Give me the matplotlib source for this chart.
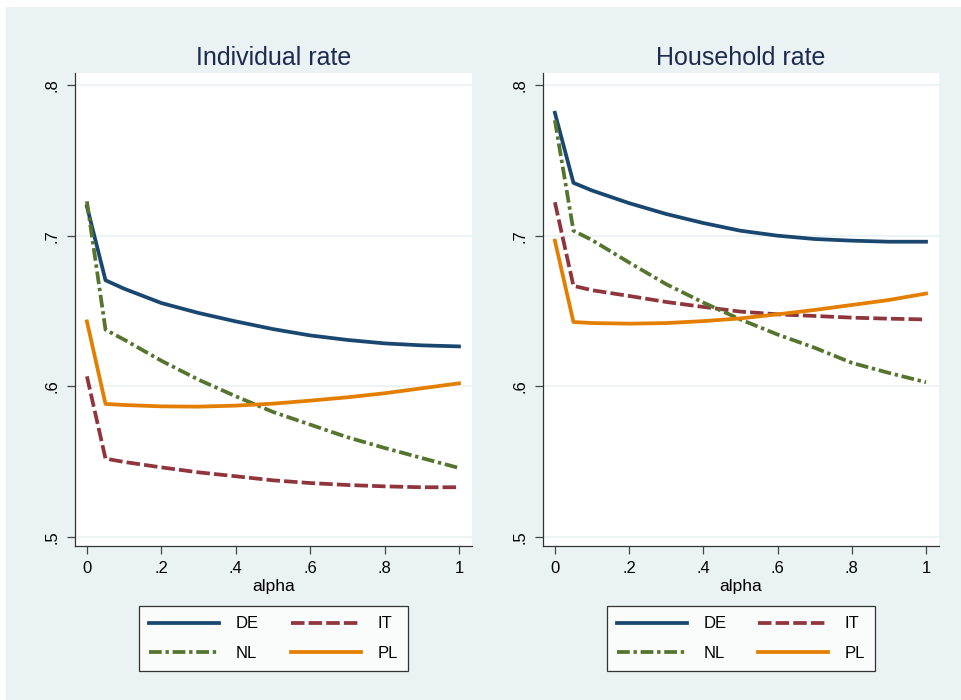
import matplotlib
matplotlib.use("Agg")
import matplotlib.pyplot as plt
from matplotlib.patches import Rectangle

plt.rcParams['font.family'] = ['Liberation Sans', 'DejaVu Sans']

# alpha grid
alpha = [0, 0.05, 0.1, 0.2, 0.3, 0.4, 0.5, 0.6, 0.7, 0.8, 0.9, 1.0]

# Individual rate
ind_de = [0.7195, 0.6704, 0.6648, 0.6553, 0.6487, 0.6431, 0.6380, 0.6338, 0.6308, 0.6285, 0.6272, 0.6265]
ind_it = [0.6066, 0.5520, 0.5498, 0.5462, 0.5429, 0.5403, 0.5376, 0.5358, 0.5345, 0.5336, 0.5330, 0.5330]
ind_nl = [0.7228, 0.6376, 0.6310, 0.6170, 0.6044, 0.5934, 0.5830, 0.5746, 0.5662, 0.5591, 0.5524, 0.5458]
ind_pl = [0.6431, 0.5883, 0.5876, 0.5867, 0.5865, 0.5872, 0.5885, 0.5905, 0.5927, 0.5954, 0.5987, 0.6020]

# Household rate
hh_de = [0.7816, 0.7351, 0.7300, 0.7216, 0.7144, 0.7084, 0.7033, 0.7000, 0.6978, 0.6967, 0.6960, 0.6960]
hh_it = [0.7222, 0.6667, 0.6638, 0.6600, 0.6560, 0.6527, 0.6496, 0.6478, 0.6467, 0.6456, 0.6449, 0.6444]
hh_nl = [0.7767, 0.7033, 0.6971, 0.6822, 0.6678, 0.6556, 0.6444, 0.6344, 0.6256, 0.6156, 0.6089, 0.6027]
hh_pl = [0.6967, 0.6427, 0.6420, 0.6416, 0.6420, 0.6433, 0.6451, 0.6478, 0.6507, 0.6540, 0.6573, 0.6616]

yticks = [0.5, 0.6, 0.7, 0.8]
ytick_labels = [".5", ".6", ".7", ".8"]
xticks = [0, 0.2, 0.4, 0.6, 0.8, 1.0]
xtick_labels = ["0", ".2", ".4", ".6", ".8", "1"]

BG = "#eaf2f3"
NAVY = "#1a476f"
MAROON = "#90353b"
GREEN = "#55752f"
ORANGE = "#e37e00"
TITLE_C = "#1e2b50"

fig = plt.figure(figsize=(9.62, 7.0), dpi=100)
fig.patch.set_facecolor("white")
fig.patches.append(Rectangle((6 / 962, 0), 1, 1 - 7 / 700, transform=fig.transFigure,
                             facecolor=BG, edgecolor="none", zorder=-10))


def panel(rect, title, de, it, nl, pl):
    ax = fig.add_axes(rect)
    ax.set_facecolor("white")
    lw = 2.7
    l_de, = ax.plot(alpha, de, color=NAVY, lw=lw, label="DE")
    l_it, = ax.plot(alpha, it, color=MAROON, lw=lw, linestyle=(0, (3.6, 1.1)), label="IT")
    l_nl, = ax.plot(alpha, nl, color=GREEN, lw=lw, linestyle=(0, (3.4, 1.0, 0.9, 1.0)), label="NL")
    l_pl, = ax.plot(alpha, pl, color=ORANGE, lw=lw, label="PL")
    ax.set_xlim(-0.032, 1.035)
    ax.set_ylim(0.494, 0.808)
    ax.set_yticks(yticks)
    ax.set_yticklabels(ytick_labels, rotation=90, va="center")
    ax.set_xticks(xticks)
    ax.set_xticklabels(xtick_labels)
    ax.tick_params(axis="both", labelsize=12, length=6, width=0.9, color="#444444", direction="out")
    ax.tick_params(axis="y", pad=5)
    ax.tick_params(axis="x", pad=5)
    ax.grid(axis="y", color=BG, lw=1.2)
    ax.set_axisbelow(True)
    for s in ["top", "right"]:
        ax.spines[s].set_visible(False)
    for s in ["left", "bottom"]:
        ax.spines[s].set_color("#333333")
        ax.spines[s].set_linewidth(0.9)
    ax.set_xlabel("alpha", fontsize=12.5, labelpad=2)
    ax.set_title(title, fontsize=18, color=TITLE_C, pad=6)
    leg = ax.legend([l_de, l_nl, l_it, l_pl], ["DE", "NL", "IT", "PL"], ncol=2,
                    loc="upper center", bbox_to_anchor=(0.5, -0.11), fontsize=12,
                    handlelength=4.2, columnspacing=1.9, handletextpad=1.0,
                    frameon=True, fancybox=False, edgecolor="black", borderpad=0.6,
                    labelspacing=0.85)
    leg.get_frame().set_linewidth(0.9)
    return ax


panel([75 / 962, 1 - 546 / 700, 397 / 962, 473 / 700], "Individual rate", ind_de, ind_it, ind_nl, ind_pl)
panel([543 / 962, 1 - 546 / 700, 396 / 962, 473 / 700], "Household rate", hh_de, hh_it, hh_nl, hh_pl)

fig.savefig("out.png", dpi=100, facecolor=fig.get_facecolor())
